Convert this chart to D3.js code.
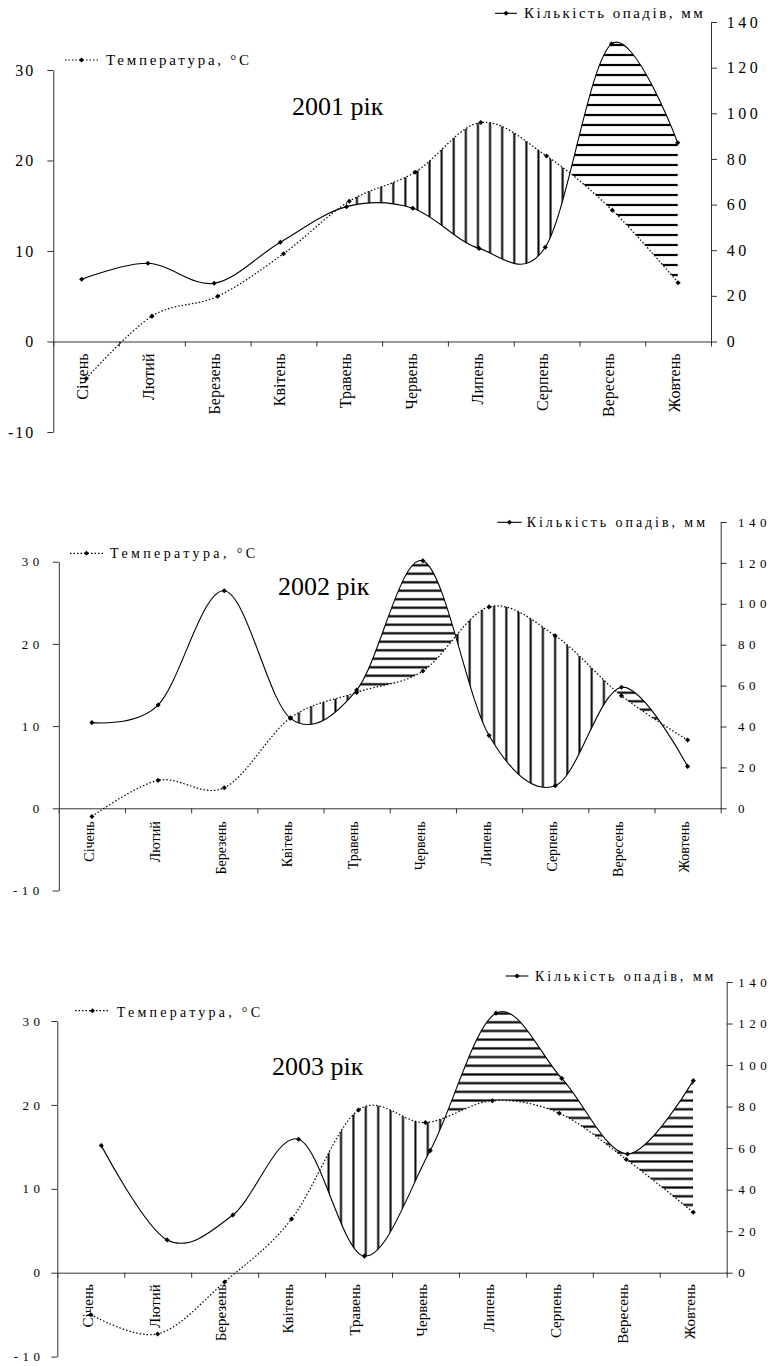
<!DOCTYPE html>
<html>
<head>
<meta charset="utf-8">
<script src="https://cdn.jsdelivr.net/npm/d3@7"></script>
<style>
  body { margin: 0; background: #fff; }
  svg { display: block; }
  svg text { font-family: "Liberation Serif", "Times New Roman", "DejaVu Serif", serif; }
</style>
</head>
<body>
<svg id="chart" width="775" height="1366"></svg>
<script>
// Months on the x axis
const months = ["Січень", "Лютий", "Березень", "Квітень", "Травень",
                "Червень", "Липень", "Серпень", "Вересень", "Жовтень"];
const titles = ["2001 рік", "2002 рік", "2003 рік"];
const tempLabel = "Температура, °C";
const precipLabel = "Кількість опадів, мм";

// Temperature, °C (left axis)
const temp2001 = [-4.1, 2.8, 5.0, 9.7, 15.5, 18.7, 24.2, 20.5, 14.5, 6.5];
const temp2002 = [-1.0, 3.4, 2.5, 11.0, 14.1, 16.7, 24.5, 21.0, 13.7, 8.3];
const temp2003 = [-5.0, -7.3, -1.1, 6.4, 19.4, 17.9, 20.5, 19.0, 13.5, 7.2];

// Precipitation, mm (right axis)
const precip2001 = [27.3, 34.3, 25.5, 43.5, 59.1, 58.4, 40.8, 41.3, 130.4, 87.1];
const precip2002 = [41.9, 50.5, 106.4, 44.0, 57.8, 121.0, 35.6, 11.0, 59.2, 20.5];
const precip2003 = [61.2, 15.8, 27.8, 64.3, 8.0, 58.8, 125.0, 93.6, 57.2, 92.5];

// Tick values
const tempTicks = [-10, 0, 10, 20, 30];
const precipTicks = [0, 20, 40, 60, 80, 100, 120, 140];

// Hatched stretches, in month index (0 = Січень)
// dry: temperature curve above precipitation (vertical lines)
// wet: precipitation curve above temperature (horizontal lines)
const dryRanges = [[4, 9], [3, 8], [3, 6]];
const wetRanges = [[5, 9], [4, 9], [5, 9]];

// layout of each panel
const layout = [
  { x0: 53.3, x1: 711, zeroY: 341.5, t30Y: 70, p140Y: 22, pRange: [81.7, 677.7],
    tickFs: 16, lSp: 2, rSp: 3.5, lPad: 12, rPad: 9.7, monthFs: 16, monthOff: 12,
    vGap: 12.1, hGap: 10,
    title: [292, 115],
    tLeg: { x0: 65, x1: 98, y: 60, tx: 106, ty: 65, w: 143, fs: 15 },
    pLeg: { x0: 495, x1: 517, y: 13.3, tx: 524, ty: 18.3, w: 178.7, fs: 15 } },
  { x0: 58.8, x1: 720.7, zeroY: 808.3, t30Y: 561.7, p140Y: 522, pRange: null,
    tickFs: 13, lSp: 4.5, rSp: 4.5, lPad: 9, rPad: 11.3, monthFs: 14, monthOff: 13,
    vGap: 12.2, hGap: 8.5,
    title: [278, 595],
    tLeg: { x0: 70, x1: 103, y: 553.3, tx: 110, ty: 558.3, w: 145, fs: 14 },
    pLeg: { x0: 497.3, x1: 521.7, y: 522.3, tx: 526.7, ty: 526.7, w: 178.3, fs: 14 } },
  { x0: 57.3, x1: 726.7, zeroY: 1272.7, t30Y: 1021, p140Y: 982, pRange: [101.3, 693.3],
    tickFs: 13, lSp: 4.5, rSp: 4.5, lPad: 6.8, rPad: 5.6, monthFs: 15, monthOff: 11.5,
    vGap: 12.4, hGap: 8.7,
    title: [272, 1075],
    tLeg: { x0: 75, x1: 110, y: 1010.7, tx: 116.7, ty: 1016.7, w: 143.3, fs: 14 },
    pLeg: { x0: 505.7, x1: 528.3, y: 976, tx: 535, ty: 980.7, w: 178.3, fs: 14 } }
];

const temps = [temp2001, temp2002, temp2003];
const precips = [precip2001, precip2002, precip2003];

const serif = "Liberation Serif, Times New Roman, DejaVu Serif, serif";
const svg = d3.select("#chart");
const defs = svg.append("defs");
const curve = d3.curveCardinal.tension(0);
const marker = d3.symbol().type(d3.symbolSquare).size(13);
const axisColor = "#333";

layout.forEach((p, k) => {
  const g = svg.append("g").attr("font-family", serif);
  const rows = months.map((m, i) => ({ m: m, t: temps[k][i], pr: precips[k][i] }));

  // scales
  const xCat = d3.scaleBand().domain(months).range([p.x0, p.x1]);
  const xT = m => xCat(m) + xCat.bandwidth() / 2;
  const xP = d3.scalePoint().domain(months)
               .range(p.pRange || [xT(months[0]), xT(months[months.length - 1])]);
  const xIdx = d3.scaleLinear().domain([0, months.length - 1])
                 .range([xT(months[0]), xT(months[months.length - 1])]);
  const bottomY = p.zeroY + (p.zeroY - p.t30Y) / 3;
  const yT = d3.scaleLinear().domain([-10, 30]).range([bottomY, p.t30Y]);
  const yP = d3.scaleLinear().domain([0, 140]).range([p.zeroY, p.p140Y]);
  const topY = p.p140Y - 20;

  // hatch patterns
  defs.append("pattern").attr("id", "hp" + k)
      .attr("patternUnits", "userSpaceOnUse")
      .attr("width", 20).attr("height", p.hGap)
    .append("line")
      .attr("x1", 0).attr("x2", 20)
      .attr("y1", p.hGap / 2).attr("y2", p.hGap / 2)
      .attr("stroke", "#000").attr("stroke-width", 2.2);
  defs.append("pattern").attr("id", "vp" + k)
      .attr("patternUnits", "userSpaceOnUse")
      .attr("width", p.vGap).attr("height", 20)
    .append("line")
      .attr("x1", p.vGap / 2).attr("x2", p.vGap / 2)
      .attr("y1", 0).attr("y2", 20)
      .attr("stroke", "#000").attr("stroke-width", 2);

  // areas used to build the hatched regions
  const aboveT = d3.area().x(d => xT(d.m)).y0(topY).y1(d => yT(d.t)).curve(curve);
  const belowT = d3.area().x(d => xT(d.m)).y0(bottomY).y1(d => yT(d.t)).curve(curve);
  const aboveP = d3.area().x(d => xP(d.m)).y0(topY).y1(d => yP(d.pr)).curve(curve);
  const belowP = d3.area().x(d => xP(d.m)).y0(bottomY).y1(d => yP(d.pr)).curve(curve);

  const clipRect = (id, r) => defs.append("clipPath").attr("id", id)
      .append("rect")
      .attr("x", xIdx(r[0])).attr("width", xIdx(r[1]) - xIdx(r[0]))
      .attr("y", topY).attr("height", bottomY - topY);
  clipRect("wx" + k, wetRanges[k]);
  clipRect("dx" + k, dryRanges[k]);
  defs.append("clipPath").attr("id", "bp" + k).append("path").attr("d", belowP(rows));
  defs.append("clipPath").attr("id", "bt" + k).append("path").attr("d", belowT(rows));

  // wet: between precipitation (top) and temperature (bottom)
  g.append("g").attr("clip-path", "url(#wx" + k + ")")
    .append("g").attr("clip-path", "url(#bp" + k + ")")
    .append("path").attr("d", aboveT(rows)).attr("fill", "url(#hp" + k + ")");
  // dry: between temperature (top) and precipitation (bottom)
  g.append("g").attr("clip-path", "url(#dx" + k + ")")
    .append("g").attr("clip-path", "url(#bt" + k + ")")
    .append("path").attr("d", aboveP(rows)).attr("fill", "url(#vp" + k + ")");

  // axes
  const left = g.append("g")
      .attr("transform", "translate(" + p.x0 + ",0)")
      .call(d3.axisLeft(yT).tickValues(tempTicks).tickSize(6).tickSizeOuter(0)
              .tickPadding(p.lPad).tickFormat(d => String(d)));
  const right = g.append("g")
      .attr("transform", "translate(" + p.x1 + ",0)")
      .call(d3.axisRight(yP).tickValues(precipTicks).tickSize(6).tickSizeOuter(0)
              .tickPadding(p.rPad).tickFormat(d => String(d)));
  const xLin = d3.scaleLinear().domain([0, months.length]).range([p.x0, p.x1]);
  const bottom = g.append("g")
      .attr("transform", "translate(0," + p.zeroY + ")")
      .call(d3.axisBottom(xLin).tickValues(d3.range(months.length + 1))
              .tickFormat("").tickSize(5).tickSizeOuter(0));
  [left, right, bottom].forEach(a => {
    a.attr("font-family", serif).attr("font-size", p.tickFs);
    a.select(".domain").attr("stroke", axisColor);
    a.selectAll(".tick line").attr("stroke", axisColor);
    a.selectAll("text").attr("fill", "#000");
  });
  left.selectAll("text").style("letter-spacing", p.lSp + "px");
  right.selectAll("text").style("letter-spacing", p.rSp + "px");

  // month labels
  g.selectAll("text.month").data(months).join("text")
      .attr("class", "month")
      .attr("transform", m => "translate(" + xT(m) + "," + (p.zeroY + p.monthOff) + ") rotate(-90)")
      .attr("text-anchor", "end")
      .attr("dy", "0.12em")
      .attr("font-size", p.monthFs)
      .text(m => m);

  // lines
  g.append("path")
      .attr("d", d3.line().x(d => xT(d.m)).y(d => yT(d.t)).curve(curve)(rows))
      .attr("fill", "none").attr("stroke", "#000").attr("stroke-width", 1.2)
      .attr("stroke-dasharray", "1.5,2");
  g.append("path")
      .attr("d", d3.line().x(d => xP(d.m)).y(d => yP(d.pr)).curve(curve)(rows))
      .attr("fill", "none").attr("stroke", "#000").attr("stroke-width", 1.1);

  // markers
  g.selectAll("path.tm").data(rows).join("path")
      .attr("class", "tm")
      .attr("d", marker)
      .attr("transform", d => "translate(" + xT(d.m) + "," + yT(d.t) + ") rotate(45)");
  g.selectAll("path.pm").data(rows).join("path")
      .attr("class", "pm")
      .attr("d", marker)
      .attr("transform", d => "translate(" + xP(d.m) + "," + yP(d.pr) + ") rotate(45)");

  // title
  g.append("text")
      .attr("x", p.title[0]).attr("y", p.title[1])
      .attr("font-size", 26)
      .text(titles[k]);

  // legends
  const tl = p.tLeg, pl = p.pLeg;
  g.append("line")
      .attr("x1", tl.x0).attr("x2", tl.x1).attr("y1", tl.y).attr("y2", tl.y)
      .attr("stroke", "#000").attr("stroke-width", 1.2).attr("stroke-dasharray", "1.5,2");
  g.append("path").attr("d", marker)
      .attr("transform", "translate(" + (tl.x0 + tl.x1) / 2 + "," + tl.y + ") rotate(45)");
  g.append("text")
      .attr("x", tl.tx).attr("y", tl.ty)
      .attr("font-size", tl.fs)
      .attr("textLength", tl.w).attr("lengthAdjust", "spacing")
      .text(tempLabel);

  g.append("line")
      .attr("x1", pl.x0).attr("x2", pl.x1).attr("y1", pl.y).attr("y2", pl.y)
      .attr("stroke", "#000").attr("stroke-width", 1.1);
  g.append("path").attr("d", marker)
      .attr("transform", "translate(" + (pl.x0 + pl.x1) / 2 + "," + pl.y + ") rotate(45)");
  g.append("text")
      .attr("x", pl.tx).attr("y", pl.ty)
      .attr("font-size", pl.fs)
      .attr("textLength", pl.w).attr("lengthAdjust", "spacing")
      .text(precipLabel);
});
</script>
</body>
</html>
